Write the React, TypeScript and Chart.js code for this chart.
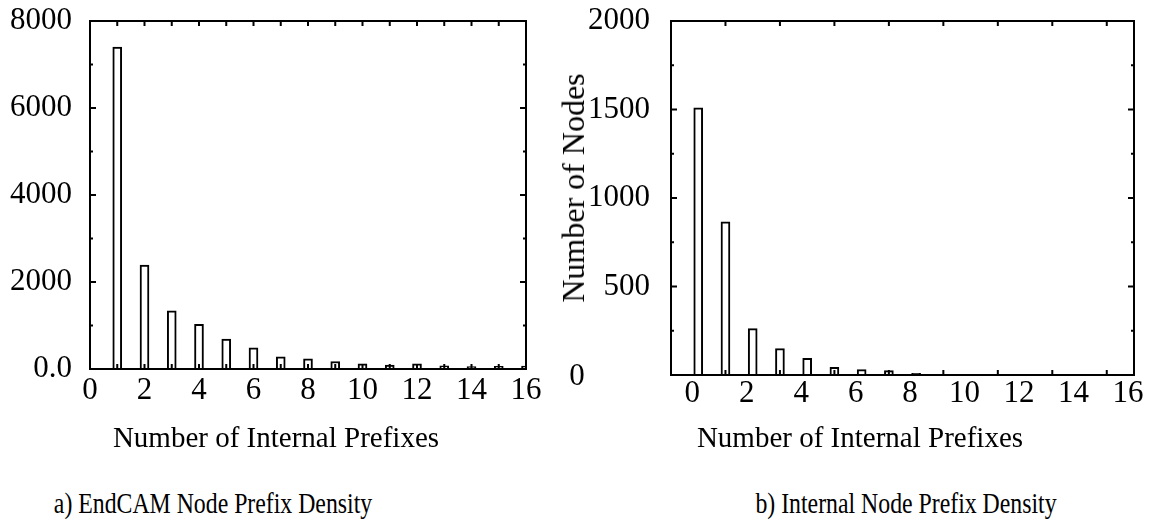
import React, { useEffect, useRef } from 'react';
import { Chart, registerables } from 'chart.js';

Chart.register(...registerables);

const FONT = "'Liberation Serif', 'Times New Roman', serif";
const TICK_FONT_SIZE = 31;

// ---------- a) EndCAM Node Prefix Density ----------
const endcamPrefixes = [1, 2, 3, 4, 5, 6, 7, 8, 9, 10, 11, 12, 13, 14, 15, 16];
const endcamNodes = [7400, 2390, 1340, 1025, 688, 488, 280, 234, 172, 118, 88, 118, 72, 56, 64, 66];
const endcamXTicks = [0, 2, 4, 6, 8, 10, 12, 14, 16];
const endcamXTickLabels = ['0', '2', '4', '6', '8', '10', '12', '14', '16'];
const endcamXMarks = [1, 2, 3, 4, 5, 6, 7, 8, 9, 10, 11, 12, 13, 14, 15];
const endcamYTicks = [0, 2000, 4000, 6000, 8000];
const endcamYTickLabels = ['0.0', '2000', '4000', '6000', '8000'];
const endcamYMinor = [1000, 3000, 5000, 7000];

// ---------- b) Internal Node Prefix Density ----------
const internalPrefixes = [0, 1, 2, 3, 4, 5, 6, 7, 8, 9, 10, 11, 12, 13, 14, 15, 16];
const internalNodes = [1510, 865, 262, 149, 94, 43, 30, 25, 9, 3, 4, 0, 1, 0, 1, 0, 1];
const internalXTicks = [0, 2, 4, 6, 8, 10, 12, 14, 16];
const internalXTickLabels = ['0', '2', '4', '6', '8', '10', '12', '14', '16'];
const internalXMarks = [1, 3, 5, 7, 9, 11, 13, 15];
const internalYTicks = [0, 500, 1000, 1500, 2000];
const internalYTickLabels = ['0', '500', '1000', '1500', '2000'];
const internalYMinor = [250, 750, 1250, 1750];

const xTitle = 'Number of Internal Prefixes';
const yTitleB = 'Number of Nodes';
const captionA = 'a) EndCAM Node Prefix Density';
const captionB = 'b) Internal Node Prefix Density';

const CANVAS_H = 470;

const framePlugin = {
  id: 'frame',
  afterDatasetsDraw(chart: any, _args: any, opts: any) {
    const { ctx, chartArea: a, scales } = chart;
    const x = scales.x;
    const y = scales.y;
    ctx.save();
    ctx.strokeStyle = '#000';
    ctx.lineWidth = 2;
    ctx.beginPath();
    for (const v of opts.xMarks || []) {
      const px = x.getPixelForValue(v);
      ctx.moveTo(px, a.top);
      ctx.lineTo(px, a.top + 5);
      ctx.moveTo(px, a.bottom);
      ctx.lineTo(px, a.bottom - 5);
    }
    for (const v of opts.yMajor || []) {
      const py = y.getPixelForValue(v);
      ctx.moveTo(a.left, py);
      ctx.lineTo(a.left + 6, py);
      ctx.moveTo(a.right, py);
      ctx.lineTo(a.right - 6, py);
    }
    for (const v of opts.yMinor || []) {
      const py = y.getPixelForValue(v);
      ctx.moveTo(a.left, py);
      ctx.lineTo(a.left + 3, py);
      ctx.moveTo(a.right, py);
      ctx.lineTo(a.right - 3, py);
    }
    ctx.stroke();
    ctx.strokeRect(a.left, a.top, a.right - a.left, a.bottom - a.top);
    if (opts.zeroLabel) {
      ctx.fillStyle = '#000';
      ctx.font = `${TICK_FONT_SIZE}px ${FONT}`;
      ctx.textAlign = 'center';
      ctx.textBaseline = 'middle';
      ctx.fillText(opts.zeroLabel, a.left - 94, y.getPixelForValue(0) + 2);
    }
    ctx.restore();
  },
};

type PanelProps = {
  canvasLeft: number;
  canvasWidth: number;
  areaLeft: number;
  areaTop: number;
  areaRight: number;
  areaBottom: number;
  xs: number[];
  ys: number[];
  xMin: number;
  xMax: number;
  yMax: number;
  xTicks: number[];
  xLabels: string[];
  xMarks: number[];
  yTicks: number[];
  yLabels: string[];
  yMinor: number[];
  xLabelOffset: number;
  xLabelPad: number;
  yLabelPad: number;
  hideZeroY?: boolean;
};

function Panel(p: PanelProps) {
  const ref = useRef<HTMLCanvasElement>(null);
  useEffect(() => {
    const font = { family: FONT, size: TICK_FONT_SIZE };
    const chart = new Chart(ref.current as HTMLCanvasElement, {
      type: 'bar',
      data: {
        datasets: [
          {
            data: p.xs.map((x, i) => ({ x, y: p.ys[i] })),
            backgroundColor: '#ffffff',
            borderColor: '#000000',
            borderWidth: 2,
            borderSkipped: 'start',
            barThickness: 9,
            clip: 0,
          } as any,
        ],
      },
      options: {
        animation: false,
        responsive: false,
        events: [],
        layout: {
          padding: {
            left: 0,
            top: p.areaTop,
            right: p.canvasLeft + p.canvasWidth - p.areaRight,
            bottom: 0,
          },
        },
        plugins: {
          legend: { display: false },
          tooltip: { enabled: false },
          frame: {
            xMarks: p.xMarks,
            yMajor: p.yTicks,
            yMinor: p.yMinor,
            zeroLabel: p.hideZeroY ? p.yLabels[0] : null,
          },
        } as any,
        scales: {
          x: {
            type: 'linear',
            offset: false,
            min: p.xMin,
            max: p.xMax,
            grid: { display: false, drawTicks: false, offset: false },
            border: { display: false },
            ticks: {
              font,
              color: '#000',
              padding: p.xLabelPad,
              labelOffset: p.xLabelOffset,
              autoSkip: false,
              maxRotation: 0,
              callback: (_v: any, i: number) => p.xLabels[i],
            },
            afterBuildTicks: (s: any) => {
              s.ticks = p.xTicks.map((v) => ({ value: v }));
            },
            afterFit: (s: any) => {
              s.height = CANVAS_H - p.areaBottom;
              s.paddingLeft = 0;
              s.paddingRight = 0;
              s.paddingTop = 0;
              s.paddingBottom = 0;
            },
          },
          y: {
            type: 'linear',
            min: 0,
            max: p.yMax,
            grid: { display: false, drawTicks: false },
            border: { display: false },
            ticks: {
              font,
              color: '#000',
              padding: p.yLabelPad,
              autoSkip: false,
              callback: (_v: any, i: number) => (p.hideZeroY && i === 0 ? '' : p.yLabels[i]),
            },
            afterBuildTicks: (s: any) => {
              s.ticks = p.yTicks.map((v) => ({ value: v }));
            },
            afterFit: (s: any) => {
              s.width = p.areaLeft - p.canvasLeft;
              s.paddingLeft = 0;
              s.paddingRight = 0;
              s.paddingTop = 0;
              s.paddingBottom = 0;
            },
          },
        },
      } as any,
      plugins: [framePlugin as any],
    });
    return () => chart.destroy();
  }, []);
  return (
    <canvas
      ref={ref}
      width={p.canvasWidth}
      height={CANVAS_H}
      style={{
        position: 'absolute',
        left: p.canvasLeft,
        top: 0,
        width: p.canvasWidth,
        height: CANVAS_H,
        display: 'block',
      }}
    />
  );
}

function Label(props: { text: string; cx: number; cy: number; size: number; sx?: number; rotate?: number }) {
  const { text, cx, cy, size, sx = 1, rotate = 0 } = props;
  return (
    <div
      style={{
        position: 'absolute',
        left: cx,
        top: cy,
        fontFamily: FONT,
        fontSize: size,
        lineHeight: 1,
        whiteSpace: 'nowrap',
        color: '#000',
        transform: `translate(-50%, -50%) rotate(${rotate}deg) scaleX(${sx})`,
      }}
    >
      {text}
    </div>
  );
}

export default function App() {
  return (
    <div
      style={{
        position: 'absolute',
        left: 0,
        top: 0,
        width: 1153,
        height: 525,
        background: '#fff',
        overflow: 'hidden',
      }}
    >
      <Panel
        canvasLeft={0}
        canvasWidth={560}
        areaLeft={90}
        areaTop={21}
        areaRight={526}
        areaBottom={369}
        xs={endcamPrefixes}
        ys={endcamNodes}
        xMin={0}
        xMax={16}
        yMax={8000}
        xTicks={endcamXTicks}
        xLabels={endcamXTickLabels}
        xMarks={endcamXMarks}
        yTicks={endcamYTicks}
        yLabels={endcamYTickLabels}
        yMinor={endcamYMinor}
        xLabelOffset={0}
        xLabelPad={3.4}
        yLabelPad={18}
      />
      <Panel
        canvasLeft={545}
        canvasWidth={608}
        areaLeft={671}
        areaTop={21}
        areaRight={1134}
        areaBottom={375}
        xs={internalPrefixes}
        ys={internalNodes}
        xMin={-1}
        xMax={16}
        yMax={2000}
        xTicks={internalXTicks}
        xLabels={internalXTickLabels}
        xMarks={internalXMarks}
        yTicks={internalYTicks}
        yLabels={internalYTickLabels}
        yMinor={internalYMinor}
        xLabelOffset={-6}
        xLabelPad={0}
        yLabelPad={21}
        hideZeroY
      />
      <Label text={xTitle} cx={276} cy={437} size={29} />
      <Label text={xTitle} cx={860} cy={437} size={29} />
      <Label text={yTitleB} cx={573} cy={188} size={32} rotate={-90} />
      <Label text={captionA} cx={213} cy={503} size={29} sx={0.82} />
      <Label text={captionB} cx={906} cy={503} size={29} sx={0.82} />
    </div>
  );
}
